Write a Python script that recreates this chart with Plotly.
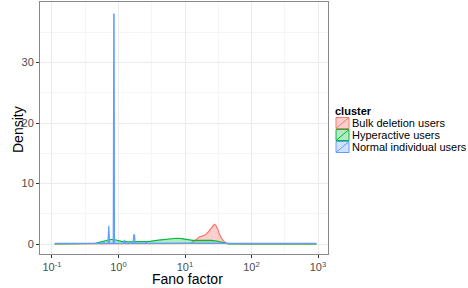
import plotly.graph_objects as go

# Data
series_names = ["Bulk deletion users", "Hyperactive users", "Normal individual users"]

bulk_x = [0.11, 1, 5, 10, 12, 13.5, 15, 16.5, 18, 20, 22, 24, 26, 27.5, 29, 31, 33, 36, 40, 45, 100, 950]
bulk_y = [0.02, 0.02, 0.03, 0.05, 0.1, 0.4, 0.9, 1.2, 1.3, 1.5, 1.9, 2.5, 3.0, 3.25, 3.1, 2.5, 1.6, 0.8, 0.25, 0.05, 0.03, 0.02]

hyper_x = [0.11, 0.3, 0.45, 0.55, 0.65, 0.75, 0.85, 0.95, 1.1, 1.4, 2, 3, 4, 5, 6, 7.5, 9, 11, 13, 16, 20, 25, 30, 35, 40, 45, 60, 100, 950]
hyper_y = [0.0, 0.02, 0.1, 0.35, 0.6, 0.75, 0.75, 0.6, 0.45, 0.35, 0.35, 0.45, 0.65, 0.8, 0.9, 0.95, 0.9, 0.75, 0.6, 0.6, 0.65, 0.6, 0.5, 0.3, 0.1, 0.03, 0.01, 0.0, 0.0]

normal_x = [0.11, 0.5, 0.6, 0.61, 0.62, 0.66, 0.695, 0.715, 0.735, 0.77, 0.835, 0.85, 0.86, 0.87, 0.885, 0.95, 1.2, 1.235, 1.26, 1.5, 1.66, 1.7, 1.74, 1.78, 2.5, 2.6, 2.7, 5, 100, 950]
normal_y = [0.1, 0.1, 0.1, 0.3, 0.1, 0.1, 0.1, 3.0, 0.1, 0.1, 0.1, 38.0, 38.0, 0.1, 0.1, 0.1, 0.1, 0.7, 0.1, 0.1, 0.1, 1.5, 1.5, 0.1, 0.1, 0.3, 0.1, 0.1, 0.1, 0.1]

x_tick_vals = [0.1, 1, 10, 100, 1000]
x_tick_text = ["10<sup>-1</sup>", "10<sup>0</sup>", "10<sup>1</sup>", "10<sup>2</sup>", "10<sup>3</sup>"]
y_tick_vals = [0, 10, 20, 30]

line_colors = ["#F8766D", "#00BA38", "#619CFF"]
fill_colors = ["rgba(248,118,109,0.35)", "rgba(0,186,56,0.3)", "rgba(97,156,255,0.3)"]

W, H = 468, 288
L, R, T, B = 40, 140, 2, 34
PW, PH = W - L - R, H - T - B


def px(xp):
    return (xp - L) / PW


def py(yp):
    return (H - B - yp) / PH


fig = go.Figure()
for name, xs, ys, lc, fc in zip(series_names, [bulk_x, hyper_x, normal_x], [bulk_y, hyper_y, normal_y], line_colors, fill_colors):
    fig.add_trace(go.Scatter(x=xs, y=ys, mode="lines", name=name, fill="tozeroy",
                             fillcolor=fc, line=dict(color=lc, width=1.2), showlegend=False))

font_family = "Liberation Sans, Arial, sans-serif"

annotations = [
    dict(text="Fano factor", x=px(187), y=py(279), xref="paper", yref="paper", showarrow=False,
         font=dict(size=14, color="#000000"), xanchor="center", yanchor="middle"),
    dict(text="Density", x=px(18), y=py(130), xref="paper", yref="paper", showarrow=False,
         font=dict(size=14, color="#000000"), textangle=-90, xanchor="center", yanchor="middle"),
    dict(text="<b>cluster</b>", x=px(333), y=py(111), xref="paper", yref="paper", showarrow=False,
         font=dict(size=11, color="#000000"), xanchor="left", yanchor="middle"),
]
shapes = []
row_tops = [117, 129, 141]
for name, lc, fc, top in zip(series_names, line_colors, fill_colors, row_tops):
    x0, x1, y0, y1 = 336, 349, top + 0.5, top + 11.5
    shapes.append(dict(type="rect", xref="paper", yref="paper", x0=px(x0), x1=px(x1), y0=py(y1), y1=py(y0),
                       fillcolor=fc, line=dict(color=lc, width=1)))
    shapes.append(dict(type="line", xref="paper", yref="paper", x0=px(x0), y0=py(y1), x1=px(x1), y1=py(y0),
                       line=dict(color=lc, width=1)))
    annotations.append(dict(text=name, x=px(350), y=py(top + 6), xref="paper", yref="paper", showarrow=False,
                            font=dict(size=11, color="#000000"), xanchor="left", yanchor="middle"))

fig.update_layout(
    width=W, height=H,
    margin=dict(l=L, r=R, t=T, b=B, autoexpand=False),
    plot_bgcolor="white", paper_bgcolor="white",
    font=dict(family=font_family, size=11, color="#000000"),
    showlegend=False,
    annotations=annotations,
    shapes=shapes,
)
fig.update_xaxes(
    type="log", range=[-1.18, 3.15],
    tickmode="array", tickvals=x_tick_vals, ticktext=x_tick_text,
    tickfont=dict(size=11, color="#4D4D4D"),
    ticks="outside", ticklen=3, tickcolor="#333333",
    showgrid=True, gridcolor="#EBEBEB", gridwidth=1,
    minor=dict(tickmode="array", tickvals=[10**-0.5, 10**0.5, 10**1.5, 10**2.5], showgrid=True, gridcolor="#F5F5F5", ticks=""),
    showline=True, mirror=True, linecolor="#888888", linewidth=1,
    zeroline=False, automargin=False,
)
fig.update_yaxes(
    range=[-1.65, 40],
    tickmode="array", tickvals=y_tick_vals,
    tickfont=dict(size=11, color="#4D4D4D"),
    ticks="outside", ticklen=3, tickcolor="#333333",
    showgrid=True, gridcolor="#EBEBEB", gridwidth=1,
    minor=dict(tickmode="array", tickvals=[5, 15, 25, 35], showgrid=True, gridcolor="#F5F5F5", ticks=""),
    showline=True, mirror=True, linecolor="#888888", linewidth=1,
    zeroline=False, automargin=False,
)
fig.write_html("out.html", config={"displayModeBar": False},
               post_script="document.body.style.margin='0';")
